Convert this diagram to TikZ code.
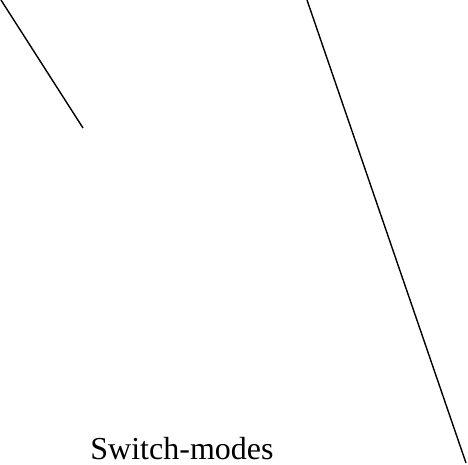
\documentclass[tikz,border=0pt]{standalone}
\usepackage{fontspec}
\setmainfont{Liberation Serif}
\begin{document}
\begin{tikzpicture}[x=1pt,y=-1pt,
  edge/.style={draw=black,line width=1.4pt},
  lbl/.style={font=\fontsize{32}{38}\selectfont,inner sep=0pt,anchor=base}]
\useasboundingbox (0,0) rectangle (468,465);
\coordinate (a1) at (1,0);
\coordinate (a2) at (83,128);
\coordinate (b1) at (307,0);
\coordinate (b2) at (466,463);
\draw[edge] (a1) -- (a2);
\draw[edge] (b1) -- (b2);
\node[lbl] (t) at (182,459) {Switch-modes};
\end{tikzpicture}
\end{document}
